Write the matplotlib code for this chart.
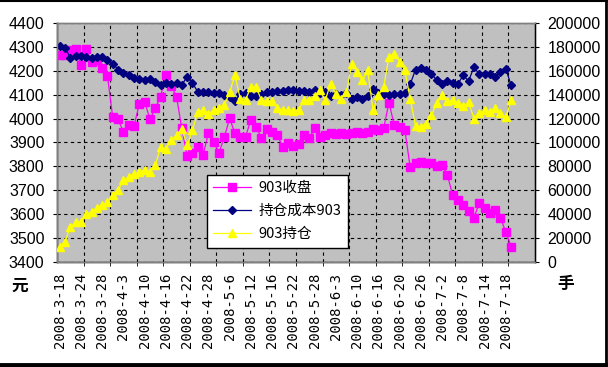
import matplotlib
matplotlib.use("Agg")
import matplotlib.pyplot as plt
from matplotlib.lines import Line2D
import numpy as np

tick_labels = ["2008-3-18", "2008-3-24", "2008-3-28", "2008-4-3", "2008-4-10", "2008-4-16",
               "2008-4-22", "2008-4-28", "2008-5-6", "2008-5-12", "2008-5-16", "2008-5-22",
               "2008-5-28", "2008-6-3", "2008-6-10", "2008-6-16", "2008-6-20", "2008-6-26",
               "2008-7-2", "2008-7-8", "2008-7-14", "2008-7-18"]
n_categories = 90
label_step = 4
grid_step = 5

close_903 = [4265, 4265, 4285, 4290, 4224, 4290, 4238, 4245, 4210, 4178,
             4005, 3997, 3945, 3973, 3969, 4061, 4071, 3997, 4043, 4092,
             4182, 4136, 4092, 3959, 3844, 3857, 3882, 3848, 3939, 3903,
             3857, 3922, 4001, 3939, 3924, 3924, 3994, 3966, 3918, 3955,
             3945, 3931, 3882, 3897, 3885, 3895, 3931, 3918, 3959, 3924,
             3931, 3939, 3936, 3941, 3936, 3939, 3945, 3939, 3945, 3955,
             3952, 3959, 4067, 3973, 3966, 3952, 3796, 3816, 3820, 3816,
             3813, 3802, 3806, 3764, 3680, 3659, 3638, 3615, 3583, 3648,
             3625, 3604, 3617, 3583, 3527, 3464]

cost_903 = [4302, 4297, 4255, 4261, 4261, 4258, 4255, 4258, 4258, 4247,
            4230, 4205, 4191, 4181, 4171, 4167, 4163, 4167, 4153, 4139,
            4149, 4146, 4150, 4141, 4175, 4148, 4113, 4113, 4113, 4109,
            4109, 4099, 4092, 4075, 4103, 4109, 4095, 4095, 4103, 4113,
            4113, 4117, 4117, 4120, 4120, 4117, 4115, 4111, 4118, 4107,
            4111, 4093, 4102, 4097, 4107, 4083, 4090, 4083, 4093, 4125,
            4107, 4102, 4097, 4102, 4102, 4107, 4143, 4205, 4210, 4202,
            4188, 4160, 4143, 4157, 4149, 4146, 4181, 4157, 4216, 4185,
            4185, 4188, 4174, 4195, 4209, 4139]

oi_903 = [12600, 16800, 29200, 33400, 33400, 40400, 41800, 45400, 47400, 50200,
          55800, 60000, 68400, 71200, 73400, 75400, 77200, 75400, 81000, 96200,
          94800, 101800, 106000, 111600, 97600, 110200, 125600, 127400, 124200, 127000,
          129200, 131000, 142200, 156200, 136600, 135800, 146400, 146400, 135200, 134800,
          134800, 129200, 127000, 127400, 126400, 127000, 135200, 135200, 138600, 143600,
          135200, 149200, 140800, 136600, 142200, 166000, 159000, 152000, 160400, 127400,
          139400, 146400, 171600, 174400, 167400, 160400, 136600, 114000, 113000, 115800,
          122800, 133000, 139400, 134800, 135200, 133000, 130200, 133800, 120000, 124600,
          127000, 125600, 129200, 124600, 121400, 135200]

series_names = ["903收盘", "持仓成本903", "903持仓"]

cjk = ["Noto Sans CJK SC", "DejaVu Sans"]
plt.rcParams["font.family"] = ["Liberation Sans", "DejaVu Sans"]

fig = plt.figure(figsize=(6.08, 3.67), dpi=100)
fig.patch.set_facecolor("white")
ax = fig.add_axes([57 / 608, 1 - 262 / 367, (535 - 57) / 608, (262 - 23) / 367])
ax.set_facecolor("#C0C0C0")
ax2 = ax.twinx()
ax2.patch.set_visible(False)

x = np.arange(len(close_903))
l1, = ax.plot(x, close_903, color="#FF00FF", lw=0.9, marker="s", ms=5.2,
              mec="#FF00FF", mfc="#FF00FF", zorder=3)
l2, = ax.plot(x, cost_903, color="#000080", lw=0.9, marker="D", ms=4.4,
              mec="#000080", mfc="#000080", zorder=4)
l3, = ax2.plot(x, oi_903, color="#FFFF00", lw=0.9, marker="^", ms=6,
               mec="#FFFF00", mfc="#FFFF00", zorder=3)

ax.set_xlim(-0.5, n_categories - 0.5)
ax.set_ylim(3400, 4400)
ax2.set_ylim(0, 200000)
ax.set_yticks(np.arange(3400, 4401, 100))
ax2.set_yticks(np.arange(0, 200001, 20000))

major = np.arange(0, len(tick_labels) * label_step, label_step)
ax.set_xticks(major)
ax.set_xticklabels(tick_labels, rotation=90, family="DejaVu Sans Mono", fontsize=10)
ax.set_xticks(np.arange(grid_step - 0.5, n_categories - 0.5, grid_step), minor=True)
ax.tick_params(axis="x", which="major", length=0, pad=8)
ax.tick_params(axis="x", which="minor", length=3, color="black")
ax.tick_params(axis="y", length=3, labelsize=11.5, pad=6)
ax2.tick_params(axis="y", length=3, labelsize=11.5, pad=6)

ax.grid(True, axis="y", which="major", color="black", ls=(0, (3, 3)), lw=0.8)
ax.grid(True, axis="x", which="minor", color="black", ls=(0, (3, 3)), lw=0.8)
ax.set_axisbelow(True)

for a in (ax, ax2):
    for s in a.spines.values():
        s.set_color("#808080")
        s.set_linewidth(1)
ax.spines["left"].set_color("black")
ax.spines["bottom"].set_color("black")
ax2.spines["right"].set_color("black")

leg = ax2.legend([l1, l2, l3], series_names, loc="lower left",
                 bbox_to_anchor=(0.298, 0.03), prop={"family": cjk, "size": 10.5},
                 fancybox=False, framealpha=1, edgecolor="black", handlelength=2.6,
                 labelspacing=0.6, borderpad=0.45, handletextpad=0.5)
leg.get_frame().set_linewidth(1)
leg.set_zorder(10)

fig.text(20 / 608, 1 - 286 / 367, "元", family=cjk, fontsize=12, fontweight="bold",
         ha="center", va="center")
fig.text(566 / 608, 1 - 284 / 367, "手", family=cjk, fontsize=12, fontweight="bold",
         ha="center", va="center")

# chart-area frame (top, right, bottom)
fig.add_artist(Line2D([0, 1], [0.998, 0.998], transform=fig.transFigure, color="black", lw=1.5))
fig.add_artist(Line2D([0.996, 0.996], [0, 1], transform=fig.transFigure, color="black", lw=2))
fig.add_artist(Line2D([0, 1], [0.006, 0.006], transform=fig.transFigure, color="black", lw=3.5))

fig.savefig("out.png", dpi=100)
